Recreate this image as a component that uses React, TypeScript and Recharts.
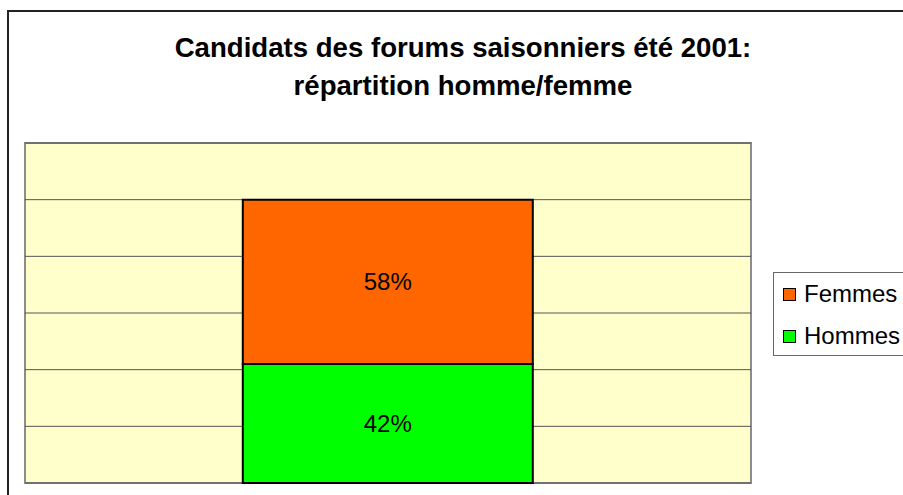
import React from "react";
import { BarChart, Bar, XAxis, YAxis, CartesianGrid, LabelList } from "recharts";

const categories = ["Été 2001"];
const hommesValues = [42];
const femmesValues = [58];
const yTicks = [20, 40, 60, 80, 100];
const titleLines = ["Candidats des forums saisonniers été 2001:", "répartition homme/femme"];

const data = categories.map((name, i) => ({ name, Hommes: hommesValues[i], Femmes: femmesValues[i] }));

const FONT = "'Liberation Sans', Arial, Helvetica, sans-serif";

const legendItems = [
  { label: "Femmes", color: "#FF6600" },
  { label: "Hommes", color: "#00FF00" },
];

const LegendBox = () => (
  <div
    style={{
      position: "absolute",
      left: 773,
      top: 272,
      width: 200,
      height: 84,
      boxSizing: "border-box",
      border: "1px solid #666",
      background: "#fff",
      fontFamily: FONT,
      fontSize: 24,
      color: "#000",
    }}
  >
    {legendItems.map((it, i) => (
      <div
        key={it.label}
        style={{
          position: "absolute",
          left: 9,
          top: 7 + i * 42,
          height: 28,
          display: "flex",
          alignItems: "center",
          whiteSpace: "nowrap",
        }}
      >
        <span
          style={{
            display: "inline-block",
            width: 11,
            height: 11,
            background: it.color,
            border: "1.5px solid #000",
            marginRight: 8,
          }}
        />
        <span>{it.label}</span>
      </div>
    ))}
  </div>
);

export default function App() {
  return (
    <div style={{ position: "fixed", left: 0, top: 0, width: 903, height: 495, overflow: "hidden", background: "#fff" }}>
      <div
        style={{
          position: "absolute",
          left: 7,
          top: 10,
          width: 1000,
          height: 1000,
          borderLeft: "2px solid #222",
          borderTop: "2px solid #222",
        }}
      />
      <div
        style={{
          position: "absolute",
          left: 24,
          top: 142,
          width: 728,
          height: 342,
          boxSizing: "border-box",
          background: "#FFFFCC",
          border: "2px solid #8c8c8c",
        }}
      />
      <svg width={903} height={495} style={{ position: "absolute", left: 0, top: 0 }}>
        {titleLines.map((t, i) => (
          <text
            key={i}
            x={463}
            y={57 + i * 38}
            textAnchor="middle"
            fontFamily={FONT}
            fontWeight="bold"
            fontSize={27.6}
            fill="#000"
          >
            {t}
          </text>
        ))}
      </svg>
      <div style={{ position: "absolute", left: 0, top: 0 }}>
        <BarChart
          width={903}
          height={495}
          data={data}
          margin={{ top: 143, right: 152, bottom: 12, left: 25 }}
          barCategoryGap="30%"
        >
          <CartesianGrid horizontal={true} vertical={false} stroke="#555" strokeWidth={1} />
          <XAxis dataKey="name" hide />
          <YAxis hide domain={[0, 120]} ticks={yTicks} />
          <Bar dataKey="Hommes" stackId="a" fill="#00FF00" stroke="#000" strokeWidth={2} isAnimationActive={false}>
            <LabelList
              dataKey="Hommes"
              position="center"
              formatter={(v: any) => `${v}%`}
              fill="#000"
              fontSize={24}
              fontFamily={FONT}
            />
          </Bar>
          <Bar dataKey="Femmes" stackId="a" fill="#FF6600" stroke="#000" strokeWidth={2} isAnimationActive={false}>
            <LabelList
              dataKey="Femmes"
              position="center"
              formatter={(v: any) => `${v}%`}
              fill="#000"
              fontSize={24}
              fontFamily={FONT}
            />
          </Bar>
        </BarChart>
      </div>
      <LegendBox />
    </div>
  );
}
